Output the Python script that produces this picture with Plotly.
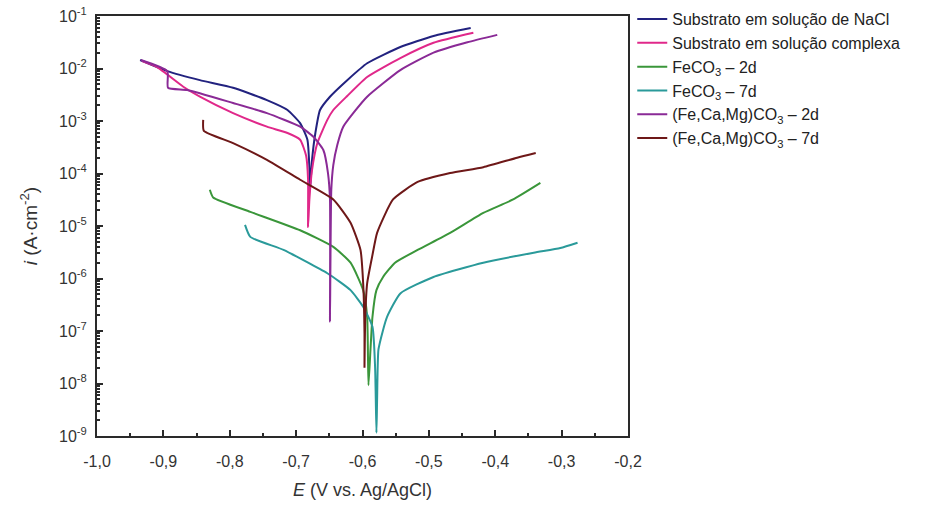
import plotly.graph_objects as go

# ---- data (E in V vs Ag/AgCl, i in A/cm2) ----
E_nacl = [-0.935, -0.894, -0.845, -0.795, -0.744, -0.713, -0.694, -0.683, -0.680, -0.679,
          -0.676, -0.671, -0.664, -0.649, -0.623, -0.593, -0.543, -0.493, -0.437]
i_nacl = [1.45e-2, 8.9e-3, 6.0e-3, 4.3e-3, 2.5e-3, 1.62e-3, 9.1e-4, 4.4e-4, 1.32e-4, 4.9e-5,
          1.82e-4, 5.9e-4, 1.62e-3, 2.9e-3, 6.0e-3, 1.26e-2, 2.57e-2, 4.17e-2, 5.89e-2]

E_comp = [-0.932, -0.910, -0.870, -0.845, -0.795, -0.744, -0.713, -0.694, -0.685, -0.682, -0.682,
          -0.680, -0.676, -0.668, -0.653, -0.644, -0.623, -0.593, -0.543, -0.493, -0.433]
i_comp = [1.38e-2, 1.07e-2, 4.5e-3, 2.9e-3, 1.41e-3, 7.8e-4, 5.9e-4, 4.4e-4, 2.2e-4, 7.6e-5, 9.5e-6,
          3.2e-5, 1.17e-4, 3.8e-4, 1.05e-3, 1.62e-3, 3.0e-3, 6.9e-3, 1.58e-2, 3.09e-2, 4.79e-2]

E_fe2 = [-0.830, -0.825, -0.769, -0.694, -0.644, -0.618, -0.599, -0.593, -0.591,
         -0.588, -0.585, -0.579, -0.569, -0.551, -0.517, -0.468, -0.418, -0.373, -0.332]
i_fe2 = [4.9e-5, 3.5e-5, 1.86e-5, 8.3e-6, 4.0e-6, 2.0e-6, 6.0e-7, 1.86e-7, 9.3e-9,
         4.4e-8, 1.86e-7, 6.0e-7, 1.07e-6, 2.0e-6, 3.5e-6, 7.4e-6, 1.78e-5, 3.2e-5, 6.6e-5]

E_fe7 = [-0.777, -0.769, -0.719, -0.653, -0.618, -0.599, -0.585, -0.581, -0.579,
         -0.578, -0.576, -0.569, -0.563, -0.543, -0.493, -0.418, -0.342, -0.302, -0.276]
i_fe7 = [1.05e-5, 6.2e-6, 3.5e-6, 1.26e-6, 6.0e-7, 2.9e-7, 1.2e-7, 2.0e-8, 1.15e-9,
         4.9e-9, 4.4e-8, 1.05e-7, 1.86e-7, 5.2e-7, 1.07e-6, 2.0e-6, 3.1e-6, 3.8e-6, 4.8e-6]

E_mix2 = [-0.934, -0.894, -0.893, -0.864, -0.795, -0.744, -0.694, -0.674, -0.659, -0.652, -0.649, -0.649,
          -0.647, -0.644, -0.638, -0.629, -0.614, -0.593, -0.543, -0.493, -0.442, -0.397]
i_mix2 = [1.45e-2, 8.9e-3, 4.3e-3, 3.9e-3, 2.2e-3, 1.41e-3, 7.8e-4, 5.0e-4, 2.8e-4, 1.02e-4, 3.2e-5, 1.5e-7,
          4.9e-5, 1.45e-4, 3.5e-4, 7.8e-4, 1.41e-3, 2.9e-3, 9.3e-3, 2.0e-2, 3.16e-2, 4.37e-2]

E_mix7 = [-0.840, -0.839, -0.795, -0.744, -0.694, -0.644, -0.618, -0.603, -0.599, -0.597, -0.597,
          -0.596, -0.593, -0.585, -0.578, -0.554, -0.517, -0.468, -0.418, -0.367, -0.339]
i_mix7 = [1.05e-3, 6.5e-4, 3.8e-4, 1.82e-4, 7.6e-5, 3.2e-5, 1.15e-5, 3.5e-6, 8.1e-7, 9.1e-8, 2.0e-8,
          1.6e-7, 8.1e-7, 2.8e-6, 7.4e-6, 3.2e-5, 6.9e-5, 1.02e-4, 1.32e-4, 2.0e-4, 2.45e-4]

names = ["Substrato em solução de NaCl", "Substrato em solução complexa",
         "FeCO<sub>3</sub> – 2d", "FeCO<sub>3</sub> – 7d",
         "(Fe,Ca,Mg)CO<sub>3</sub> – 2d", "(Fe,Ca,Mg)CO<sub>3</sub> – 7d"]
colors = ["#22227f", "#e0288a", "#3a963a", "#2a9a9a", "#8a2a96", "#6e1818"]
series = [(E_nacl, i_nacl), (E_comp, i_comp), (E_fe2, i_fe2), (E_fe7, i_fe7),
          (E_mix2, i_mix2), (E_mix7, i_mix7)]

x_ticks = [-1.0, -0.9, -0.8, -0.7, -0.6, -0.5, -0.4, -0.3, -0.2]
x_ticktext = ["-1,0", "-0,9", "-0,8", "-0,7", "-0,6", "-0,5", "-0,4", "-0,3", "-0,2"]
y_exps = [-9, -8, -7, -6, -5, -4, -3, -2, -1]

fig = go.Figure()
for (ex, iy), nm, c in zip(series, names, colors):
    fig.add_trace(go.Scatter(x=ex, y=iy, mode="lines", name=nm,
                             line=dict(color=c, width=2, shape="spline", smoothing=0.5)))

y_minor = [k * 10.0 ** d for d in range(-9, -1) for k in range(2, 10)]
x_minor = [round(-0.95 + 0.1 * k, 2) for k in range(8)]

axis_common = dict(showline=True, linecolor="#2a2a2a", linewidth=2, mirror=True,
                   showgrid=False, zeroline=False, ticks="inside", tickcolor="#2a2a2a",
                   tickwidth=1.5, ticklen=6, tickfont=dict(size=16, color="#333333"))

fig.update_xaxes(range=[-1.0, -0.2], tickvals=x_ticks, ticktext=x_ticktext,
                 ticklabelstandoff=10,
                 minor=dict(tickvals=x_minor, ticks="inside", ticklen=3, tickcolor="#2a2a2a"),
                 title=dict(text="<i>E</i> (V vs. Ag/AgCl)", font=dict(size=18, color="#333333"),
                            standoff=14),
                 **axis_common)
fig.update_yaxes(type="log", range=[-9, -1], tickvals=[10.0 ** e for e in y_exps],
                 ticktext=["10<sup>%d</sup>" % e for e in y_exps],
                 ticklabelstandoff=5,
                 minor=dict(tickvals=y_minor, ticks="inside", ticklen=3, tickcolor="#2a2a2a"),
                 title=dict(text="<i>i</i> (A·cm<sup>-2</sup>)", font=dict(size=19, color="#333333"),
                            standoff=16),
                 **axis_common)

fig.update_layout(width=945, height=509,
                  margin=dict(l=97, r=317, t=16, b=73, autoexpand=False),
                  paper_bgcolor="white", plot_bgcolor="white",
                  font=dict(family="Liberation Sans, Arial, sans-serif", color="#333333"),
                  legend=dict(x=1.008, y=1.033, xanchor="left", yanchor="top",
                              font=dict(size=16, color="#222222"), tracegroupgap=0,
                              itemwidth=30, bgcolor="rgba(0,0,0,0)"),
                  showlegend=True)

fig.write_html("out.html")
